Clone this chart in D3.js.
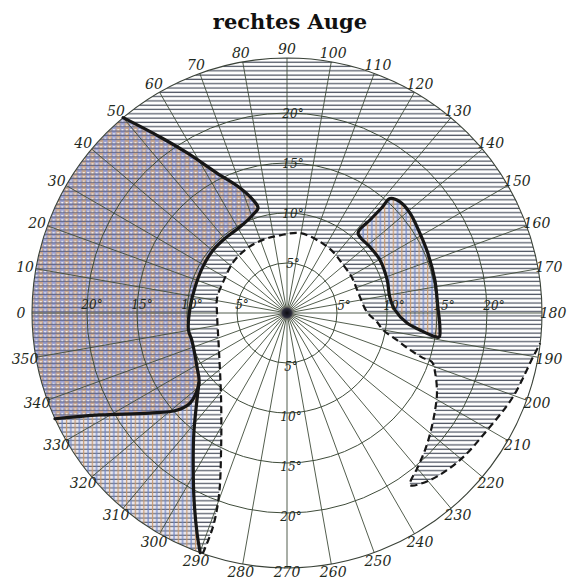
<!DOCTYPE html>
<html lang="de">
<head>
<meta charset="UTF-8">
<title>rechtes Auge</title>
<script src="https://d3js.org/d3.v7.min.js"></script>
<style>
  body { margin: 0; background: #fff; }
  .angle-label { font-family: "DejaVu Serif", serif; font-style: italic; font-size: 14px; fill: #1f2a22; }
  .ecc-label { font-family: "DejaVu Serif", serif; font-style: italic; font-size: 12px; fill: #1f2a22; }
  .title { font-family: "DejaVu Serif", serif; font-weight: bold; font-size: 21px; fill: #111; }
</style>
</head>
<body>
<svg id="chart"></svg>
<script>
// meridian labels (degrees, 0 = left, counted clockwise over the top)
const angleTicks = [0, 10, 20, 30, 40, 50, 60, 70, 80, 90, 100, 110, 120, 130, 140, 150, 160, 170,
                    180, 190, 200, 210, 220, 230, 240, 250, 260, 270, 280, 290, 300, 310, 320, 330, 340, 350];
// eccentricity circles (degrees from fixation)
const eccTicks = [5, 10, 15, 20];
const outerEcc = 25.5;

// boundary points as [meridian, eccentricity]
// thick line bounding the large nasal defect, from the rim at 50 down to the junction
const leftFieldArc = [
  [50, 25.5], [54.2, 21.7], [58.0, 18.9], [63.4, 15.65], [69.4, 13.35], [73.3, 11.8], [74.6, 10.9],
  [70.9, 10.4], [61.3, 9.8], [51.7, 9.7], [40.4, 9.7], [28.7, 9.6], [15.8, 9.55], [3.5, 9.7],
  [350.3, 10.0], [344.1, 9.9], [329.0, 10.5], [321.5, 11.25]
];
// branch from the junction out to the rim at 335
const leftFieldBranch = [
  [321.5, 11.25], [317.1, 13.2], [318.6, 14.7], [323.9, 17.0], [331.4, 21.3], [335.5, 25.5]
];
// branch from the junction down to the rim at 290
const leftFieldLower = [
  [321.5, 11.25], [307.8, 15.2], [301.4, 18.0], [296.4, 20.9], [292.2, 23.8], [289.9, 25.5]
];
// ring-shaped island on the temporal side
const islandRight = [
  [132.0, 15.4], [135.5, 15.85], [140.9, 15.85], [149.0, 15.5], [156.95, 15.3], [167.4, 15.15],
  [177.7, 15.1], [185.2, 15.35], [189.0, 15.4], [188.95, 14.8], [187.3, 13.4], [184.8, 12.05],
  [178.4, 10.8], [171.2, 10.4], [161.7, 10.55], [150.3, 10.7], [141.5, 10.6], [131.6, 10.7],
  [131.75, 12.5], [132.0, 14.2]
];
// dashed outline of the unshaded area
const blindBoundary = [
  [289.3, 25.5], [289.1, 22.6], [290.5, 19.4], [295.7, 15.2], [307.2, 10.9], [331.4, 7.75],
  [0, 7.0], [12.1, 7.15], [25.8, 7.1], [43.4, 7.4], [58.4, 7.6], [71.8, 7.7], [84.9, 7.8],
  [99.2, 8.1], [114.9, 7.85], [127.0, 7.65], [139.4, 7.4], [151.7, 7.4], [163.5, 7.4],
  [179.3, 8.0], [185.7, 9.05], [190.0, 9.75], [193.8, 11.3], [196.7, 12.85], [198.3, 14.3],
  [198.7, 15.3], [202.1, 16.0], [208.1, 17.0], [213.2, 17.7], [220.0, 18.7], [224.8, 19.45],
  [229.6, 20.2], [234.4, 21.15], [229.4, 22.0], [220.4, 22.7], [210.3, 23.2], [200.4, 24.1],
  [190.1, 25.0], [186.8, 25.5]
];

const width = 569, height = 582;
const cx = 287, cy = 313;

const r = d3.scaleLinear().domain([0, outerEcc]).range([0, 255]);
const a = d3.scaleLinear().domain([0, 360]).range([-Math.PI / 2, 1.5 * Math.PI]);
const pt = ([t, e]) => { const p = d3.pointRadial(a(t), r(e)); return [cx + p[0], cy + p[1]]; };
const R = r(outerEcc);

const smooth = d3.line().curve(d3.curveCatmullRom.alpha(0.5));
const smoothClosed = d3.line().curve(d3.curveCatmullRomClosed.alpha(0.5));
const rimTo = (t) => { const p = pt([t, outerEcc]); return `A${R},${R} 0 0 1 ${p[0]},${p[1]}`; };

const svg = d3.select("#chart").attr("width", width).attr("height", height);
const defs = svg.append("defs");

defs.append("clipPath").attr("id", "disk")
  .append("circle").attr("cx", cx).attr("cy", cy).attr("r", R);

// horizontal hatching
const hatch = defs.append("pattern").attr("id", "hatch")
  .attr("patternUnits", "userSpaceOnUse").attr("width", 8).attr("height", 4.3);
hatch.append("line").attr("x1", 0).attr("x2", 8).attr("y1", 2).attr("y2", 2)
  .attr("stroke", "#4f5562").attr("stroke-width", 1.25);

// dense screen (upper part of the nasal defect)
const patA = defs.append("pattern").attr("id", "patA")
  .attr("patternUnits", "userSpaceOnUse").attr("width", 8.6).attr("height", 4.3);
patA.append("rect").attr("width", 8.6).attr("height", 4.3).attr("fill", "#9aa0d2");
patA.append("rect").attr("x", 4.3).attr("width", 4.3).attr("height", 4.3).attr("fill", "#c7a58e");
patA.append("line").attr("x1", 0).attr("x2", 8.6).attr("y1", 2).attr("y2", 2)
  .attr("stroke", "#5b6180").attr("stroke-width", 1);
patA.append("circle").attr("cx", 2.15).attr("cy", 0.2).attr("r", 1.05).attr("fill", "#f6f4f0");
patA.append("circle").attr("cx", 6.45).attr("cy", 0.2).attr("r", 1.05).attr("fill", "#f6f4f0");

// square grid (lower part and island)
const patB = defs.append("pattern").attr("id", "patB")
  .attr("patternUnits", "userSpaceOnUse").attr("width", 8.6).attr("height", 4.3);
patB.append("rect").attr("width", 8.6).attr("height", 4.3).attr("fill", "#e8e6ee");
patB.append("line").attr("x1", 0).attr("x2", 8.6).attr("y1", 2).attr("y2", 2)
  .attr("stroke", "#5a5f70").attr("stroke-width", 1.1);
patB.append("line").attr("x1", 2).attr("x2", 2).attr("y1", 0).attr("y2", 4.3)
  .attr("stroke", "#6f86c8").attr("stroke-width", 1.2);
patB.append("line").attr("x1", 6.3).attr("x2", 6.3).attr("y1", 0).attr("y2", 4.3)
  .attr("stroke", "#c99a70").attr("stroke-width", 1.2);

const fields = svg.append("g").attr("clip-path", "url(#disk)");

fields.append("circle").attr("cx", cx).attr("cy", cy).attr("r", R).attr("fill", "url(#hatch)");

fields.append("path")
  .attr("d", smooth(blindBoundary.map(pt)) + rimTo(blindBoundary[0][0]) + "Z")
  .attr("fill", "#fff");

const upperPts = leftFieldArc.concat(leftFieldBranch.slice(1));
fields.append("path")
  .attr("d", smooth(upperPts.map(pt)) + rimTo(upperPts[0][0]) + "Z")
  .attr("fill", "url(#patA)");

const lowerPts = leftFieldBranch.slice().reverse().concat(leftFieldLower.slice(1));
fields.append("path")
  .attr("d", smooth(lowerPts.map(pt)) + rimTo(lowerPts[0][0]) + "Z")
  .attr("fill", "url(#patB)");

fields.append("path")
  .attr("d", smoothClosed(islandRight.map(pt)))
  .attr("fill", "url(#patB)");

// grid
const grid = svg.append("g").attr("fill", "none").attr("stroke", "#3f4c3a");
grid.selectAll("line.meridian")
  .data(angleTicks)
  .join("line")
  .attr("class", "meridian")
  .attr("x1", cx).attr("y1", cy)
  .attr("x2", d => pt([d, outerEcc])[0])
  .attr("y2", d => pt([d, outerEcc])[1])
  .attr("stroke-width", 0.9);

grid.selectAll("circle.ecc")
  .data(eccTicks)
  .join("circle")
  .attr("class", "ecc")
  .attr("cx", cx).attr("cy", cy)
  .attr("r", d => r(d))
  .attr("stroke-width", 1);

grid.append("circle").attr("cx", cx).attr("cy", cy).attr("r", R)
  .attr("stroke", "#3a4238").attr("stroke-width", 1.1);

// boundary strokes
const bounds = svg.append("g").attr("fill", "none").attr("stroke", "#161616")
  .attr("stroke-linecap", "round").attr("stroke-linejoin", "round");
bounds.append("path").attr("d", smooth(upperPts.map(pt))).attr("stroke-width", 3.2);
bounds.append("path").attr("d", smooth(leftFieldLower.map(pt))).attr("stroke-width", 3.2);
bounds.append("path").attr("d", smoothClosed(islandRight.map(pt))).attr("stroke-width", 3.2);
bounds.append("path").attr("d", smooth(blindBoundary.map(pt)))
  .attr("stroke-width", 2.2).attr("stroke-dasharray", "7,4").attr("stroke-linecap", "butt");

// fixation point
const fix = defs.append("radialGradient").attr("id", "fix");
fix.append("stop").attr("offset", "0%").attr("stop-color", "#0c0c10");
fix.append("stop").attr("offset", "55%").attr("stop-color", "#2a2a3a");
fix.append("stop").attr("offset", "100%").attr("stop-color", "#8a8070").attr("stop-opacity", 0);
svg.append("circle").attr("cx", cx).attr("cy", cy).attr("r", 8).attr("fill", "url(#fix)");

// meridian labels
svg.append("g").selectAll("text")
  .data(angleTicks)
  .join("text")
  .attr("class", "angle-label")
  .attr("x", d => cx + d3.pointRadial(a(d), R + 11)[0])
  .attr("y", d => Math.min(cy + d3.pointRadial(a(d), R + 9)[1], height - 10))
  .attr("text-anchor", "middle")
  .attr("dominant-baseline", "central")
  .text(d => d);

// eccentricity labels on the four main meridians
const eccG = svg.append("g");
const eccSpots = [
  { dx: e => -r(e) + 5, dy: () => -8 },
  { dx: e => r(e) + 7, dy: () => -7 },
  { dx: () => 6, dy: e => -r(e) + 1 },
  { dx: () => 4, dy: e => r(e) + 4 }
];
eccSpots.forEach(s => {
  eccG.selectAll(null)
    .data(eccTicks)
    .join("text")
    .attr("class", "ecc-label")
    .attr("x", d => cx + s.dx(d))
    .attr("y", d => cy + s.dy(d))
    .attr("text-anchor", "middle")
    .attr("dominant-baseline", "central")
    .text(d => d + "°");
});

svg.append("text")
  .attr("class", "title")
  .attr("x", 290).attr("y", 29)
  .attr("text-anchor", "middle")
  .text("rechtes Auge");
</script>
</body>
</html>
